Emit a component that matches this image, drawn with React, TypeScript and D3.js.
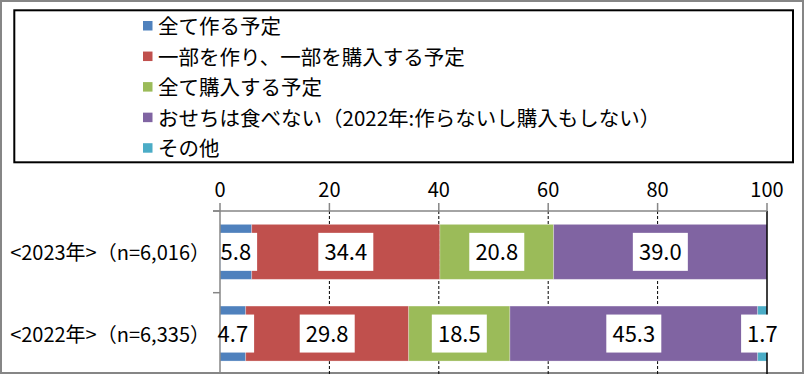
import React from 'react';
import * as d3 from 'd3';

const categories = ['<2023年>（n=6,016）', '<2022年>（n=6,335）'];
const seriesNames = [
  '全て作る予定',
  '一部を作り、一部を購入する予定',
  '全て購入する予定',
  'おせちは食べない（2022年:作らないし購入もしない）',
  'その他',
];
const values2023 = [5.8, 34.4, 20.8, 39.0, 0];
const values2022 = [4.7, 29.8, 18.5, 45.3, 1.7];
const xTicks = [0, 20, 40, 60, 80, 100];

const colors = ['#4F81BD', '#C0504D', '#9BBB59', '#8064A2', '#4BACC6'];

const W = 805;
const H = 374;
const FONT = "'Noto Sans CJK JP', 'Noto Sans', sans-serif";
const GRAY = '#868686';

const App = () => {
  const rows = [values2023, values2022].map((vals, i) => {
    const row: any = { cat: categories[i] };
    vals.forEach((v, j) => (row['s' + j] = v));
    return row;
  });
  const keys = seriesNames.map((_, j) => 's' + j);
  const stacked = d3.stack().keys(keys)(rows);

  const x = d3.scaleLinear().domain([0, 100]).range([220, 767]);
  const y = d3
    .scaleBand()
    .domain(categories)
    .range([211, 374.4])
    .paddingInner(0.327)
    .paddingOuter(0.1635);

  const step = y.step();
  const boundaries = [0, 1, 2].map((i) => 211 + i * step);

  const legendTop = 26.3;
  const legendGap = 30.55;

  return (
    <svg
      width={W}
      height={H}
      style={{ position: 'absolute', left: 0, top: 0, background: '#fff' }}
      fontFamily={FONT}
    >
      <rect x={0} y={0} width={W} height={H} fill="#fff" />
      <rect x={1} y={1} width={802} height={372} fill="none" stroke={GRAY} strokeWidth={2} />

      {/* legend */}
      <rect x={14.3} y={10.3} width={778.7} height={152} fill="#fff" stroke="#000" strokeWidth={2} />
      {seriesNames.map((name, i) => {
        const cy = legendTop + i * legendGap;
        return (
          <g key={name}>
            <rect x={143} y={cy - 5.3} width={9.5} height={9.5} fill={colors[i]} />
            <text x={158} y={cy} dy="0.38em" fontSize={20.5} fill="#000">
              {name}
            </text>
          </g>
        );
      })}

      {/* gridlines */}
      {xTicks.slice(1, -1).map((t) => (
        <line
          key={'g' + t}
          x1={x(t)}
          x2={x(t)}
          y1={211}
          y2={374.4}
          stroke="#000"
          strokeWidth={1}
          strokeDasharray="3,2"
        />
      ))}

      {/* bars */}
      {stacked.map((layer, si) =>
        layer.map((d: any) => {
          const v = d[1] - d[0];
          if (v <= 0) return null;
          return (
            <rect
              key={si + d.data.cat}
              x={x(d[0])}
              y={y(d.data.cat)}
              width={x(d[1]) - x(d[0])}
              height={y.bandwidth()}
              fill={colors[si]}
              stroke="#fff"
              strokeOpacity={0.35}
              strokeWidth={0.8}
            />
          );
        })
      )}

      <line x1={x(100)} x2={x(100)} y1={211} y2={374.4} stroke="#000" strokeWidth={1.5} />

      {/* axes */}
      <line x1={213} x2={x(100)} y1={211} y2={211} stroke={GRAY} strokeWidth={1.5} />
      {xTicks.map((t) => (
        <g key={'t' + t}>
          <line x1={x(t)} x2={x(t)} y1={203} y2={211} stroke={GRAY} strokeWidth={1.5} />
          <text x={x(t)} y={196.7} textAnchor="middle" fontSize={20} fill="#000">
            {t}
          </text>
        </g>
      ))}
      <line x1={x(0)} x2={x(0)} y1={211} y2={374.4} stroke={GRAY} strokeWidth={1.5} />
      {boundaries.map((b, i) => (
        <line key={'c' + i} x1={213} x2={x(0)} y1={b} y2={b} stroke={GRAY} strokeWidth={1.5} />
      ))}
      {categories.map((c) => (
        <text
          key={c}
          x={210}
          y={(y(c) as number) + y.bandwidth() / 2}
          dy="0.4em"
          textAnchor="end"
          fontSize={20}
          fill="#000"
        >
          {c}
        </text>
      ))}

      {/* data labels */}
      {stacked.map((layer, si) =>
        layer.map((d: any) => {
          const v = d[1] - d[0];
          if (v <= 0) return null;
          const label = d3.format('.1f')(v);
          const cx = x((d[0] + d[1]) / 2);
          const cy = (y(d.data.cat) as number) + y.bandwidth() / 2;
          const bw = label.length * 12.5 + 5;
          const left = Math.max(cx - bw / 2, x(0) + 0.7);
          const right = cx + bw / 2;
          return (
            <g key={'l' + si + d.data.cat}>
              <rect x={left} y={cy - 19} width={right - left} height={38} fill="#fff" />
              <text x={cx} y={cy} dy="0.37em" textAnchor="middle" fontSize={22} fill="#000">
                {label}
              </text>
            </g>
          );
        })
      )}
    </svg>
  );
};

export default App;
